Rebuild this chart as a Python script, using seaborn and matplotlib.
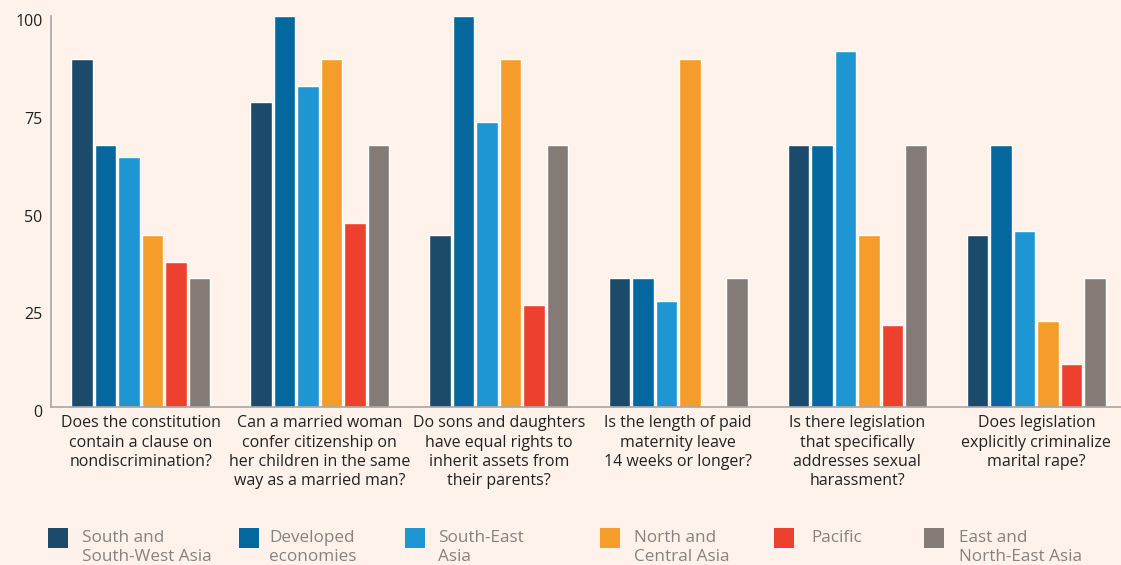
import pandas as pd
import seaborn as sns
import matplotlib.pyplot as plt
from matplotlib.patches import Rectangle
from matplotlib.transforms import ScaledTranslation

questions = [
    "Does the constitution\ncontain a clause on\nnondiscrimination?",
    "Can a married woman\nconfer citizenship on\nher children in the same\nway as a married man?",
    "Do sons and daughters\nhave equal rights to\ninherit assets from\ntheir parents?",
    "Is the length of paid\nmaternity leave\n14 weeks or longer?",
    "Is there legislation\nthat specifically\naddresses sexual\nharassment?",
    "Does legislation\nexplicitly criminalize\nmarital rape?",
]
regions = ["South and\nSouth-West Asia", "Developed\neconomies", "South-East\nAsia",
           "North and\nCentral Asia", "Pacific", "East and\nNorth-East Asia"]

south_west_asia = [89, 78, 44, 33, 67, 44]
developed = [67, 100, 100, 33, 67, 67]
south_east_asia = [64, 82, 73, 27, 91, 45]
north_central_asia = [44, 89, 89, 89, 44, 22]
pacific = [37, 47, 26, 0, 21, 11]
east_north_east_asia = [33, 67, 67, 33, 67, 33]

colores = ["#1b4a6b", "#04689f", "#1e96d3", "#f69c2b", "#ee402e", "#847a76"]
fondo = "#fef2ea"
W, H = 1121, 565

series = [south_west_asia, developed, south_east_asia, north_central_asia, pacific, east_north_east_asia]
filas = []
for reg, vals in zip(regions, series):
    for q, v in zip(questions, vals):
        filas.append({"pregunta": q, "region": reg, "valor": v})
df = pd.DataFrame(filas)

sns.set_style("white")
plt.rcParams['font.family'] = ['Open Sans', 'DejaVu Sans']

fig = plt.figure(figsize=(W / 100, H / 100), dpi=100, facecolor=fondo)
ax = fig.add_axes([51 / W, 158 / H, 1075 / W, 391 / H])
ax.set_facecolor(fondo)

sns.barplot(data=df, x="pregunta", y="valor", hue="region", palette=colores,
            width=0.787, gap=0.08, saturation=1, legend=False, ax=ax)

ax.set_xlim(-0.50, 5.5)
ax.set_ylim(0, 100)
ax.set_yticks([0, 25, 50, 75, 100])
ax.set_xlabel("")
ax.set_ylabel("")
ax.tick_params(axis="both", length=0, labelsize=11.5, colors="#222222")
ax.tick_params(axis="y", pad=6)
ax.tick_params(axis="x", pad=6)
for lbl in ax.get_xticklabels():
    lbl.set_linespacing(1.27)
# los números del original van un poco más abajo
bajar = ScaledTranslation(0, -4 / 100, fig.dpi_scale_trans)
for lbl in ax.get_yticklabels():
    lbl.set_transform(lbl.get_transform() + bajar)
for s in ["top", "right"]:
    ax.spines[s].set_visible(False)
for s in ["left", "bottom"]:
    ax.spines[s].set_color("#a8a4a2")
    ax.spines[s].set_linewidth(1.2)

# leyenda manual: cuadro + texto de dos líneas
cuadro_x = [48, 239, 405, 600, 774, 924]
texto_x = [82, 269, 438, 634, 811, 959]
for reg, col, cx, tx in zip(regions, colores, cuadro_x, texto_x):
    fig.patches.append(Rectangle((cx / W, 1 - 548 / H), 20 / W, 20 / H,
                                 transform=fig.transFigure, facecolor=col, edgecolor="none"))
    fig.text(tx / W, 1 - 530 / H, reg, ha="left", va="top", fontsize=12.3,
             color="#8a817d", linespacing=1.28)

fig.savefig("out.png", dpi=100, facecolor=fondo)
